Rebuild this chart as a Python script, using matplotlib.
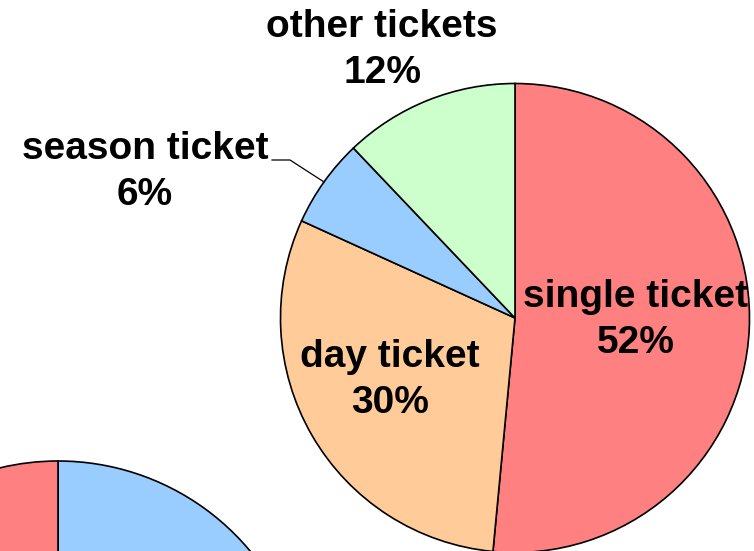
import numpy as np
import matplotlib
matplotlib.use("Agg")
import matplotlib.pyplot as plt

# tortendiagramm: ticket types
labels = ["single ticket", "day ticket", "season ticket", "other tickets"]
shares = [51.5, 30.3, 6.1, 12.1]
share_text = ["52%", "30%", "6%", "12%"]
colors = ["#FF8080", "#FFCC99", "#99CCFF", "#CCFFCC"]

# second pie, only its top is visible
second_shares = [40, 60]
second_colors = ["#99CCFF", "#FF8080"]

W, H = 754, 551
fig = plt.figure(figsize=(W / 100, H / 100), dpi=100)
ax = fig.add_axes([0, 0, 1, 1])

# pixel coordinates, y up
c1 = (515, H - 318)
r1 = 234.5
c2 = (58, H - 711)
r2 = 250

wedges, _ = ax.pie(shares, colors=colors, startangle=90, counterclock=False,
                   center=c1, radius=r1,
                   wedgeprops=dict(edgecolor="black", linewidth=1.2))
ax.pie(second_shares, colors=second_colors, startangle=90, counterclock=False,
       center=c2, radius=r2,
       wedgeprops=dict(edgecolor="black", linewidth=1.2))

font = dict(family="Liberation Sans", fontweight="bold", fontsize=28,
            ha="center", va="center", linespacing=1.36)

# label positions in pixels (x, y from top)
label_pos = [(636, 320), (390, 380), (145, 172), (382, 50)]
for name, txt, (px, py) in zip(labels, share_text, label_pos):
    ax.text(px, H - py, name + "\n" + txt, **font)

# leader line for season ticket
w = wedges[2]
mid = np.deg2rad((w.theta1 + w.theta2) / 2)
ex = c1[0] + r1 * np.cos(mid)
ey = c1[1] + r1 * np.sin(mid)
ax.plot([272, 290, ex], [H - 160, H - 160, ey], color="black", linewidth=0.9)

ax.set_xlim(0, W)
ax.set_ylim(0, H)
ax.set_aspect("equal")
ax.axis("off")

fig.savefig("out.png", dpi=100)
